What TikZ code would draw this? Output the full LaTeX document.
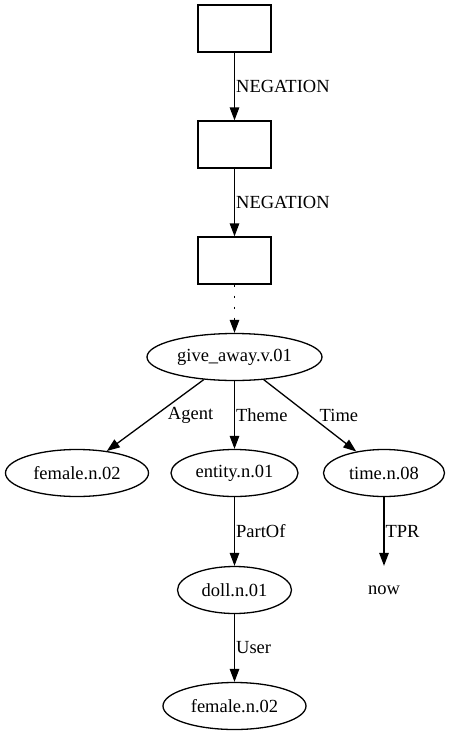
\documentclass[tikz,border=0pt]{standalone}
\usepackage{fontspec}
\setmainfont{Liberation Serif}
\usetikzlibrary{arrows.meta, positioning, shapes.geometric}

\begin{document}
\begin{tikzpicture}[x=1pt,y=-1pt,>={Triangle[length=13pt,width=9.5pt]},line width=1.3pt,
    every node/.style={font=\fontsize{18.5}{22}\selectfont},
    drsbox/.style={draw, line width=1.3pt, rectangle, minimum width=73pt, minimum height=47pt},
    concept/.style={draw, line width=1.3pt, ellipse, minimum height=47pt, inner sep=0pt},
    plain/.style={ellipse, minimum height=47pt, minimum width=100pt},
    rel/.style={anchor=west, inner sep=0pt}]
    \useasboundingbox (0,0) rectangle (448,736);

    % Kasten (Negation)
    \node (box1) [drsbox] at (234.5,28.5) {};
    \node (box2) [drsbox] at (234.5,144.5) {};
    \node (box3) [drsbox] at (234.5,260.5) {};

    % Begriffe
    \node (give) [concept, minimum width=175pt] at (234.5,357) {give\_away.v.01};
    \node (agent) [concept, minimum width=143pt] at (77,473) {female.n.02};
    \node (entity) [concept, minimum width=127pt] at (234.5,473) {entity.n.01};
    \node (time) [concept, minimum width=121pt] at (384,473) {time.n.08};
    \node (doll) [concept, minimum width=114pt] at (234.5,590) {doll.n.01};
    \node (now) [plain] at (384,590) {now};
    \node (user) [concept, minimum width=143pt] at (234.5,706) {female.n.02};

    % Kanten
    \draw[->] (box1) -- node[rel, xshift=1pt] {NEGATION} (box2);
    \draw[->] (box2) -- node[rel, xshift=1pt] {NEGATION} (box3);
    \draw[->, dash pattern=on 2.5pt off 8.5pt] (box3) -- (give);
    \draw[->] (give) -- node[rel, xshift=12pt] {Agent} (agent);
    \draw[->] (give) -- node[rel, xshift=1pt] {Theme} (entity);
    \draw[->] (give) -- node[rel, xshift=9pt] {Time} (time);
    \draw[->] (entity) -- node[rel, xshift=1pt] {PartOf} (doll);
    \draw[->] (time) -- node[rel, xshift=1pt] {TPR} (now);
    \draw[->] (doll) -- node[rel, xshift=1pt] {User} (user);
\end{tikzpicture}
\end{document}
